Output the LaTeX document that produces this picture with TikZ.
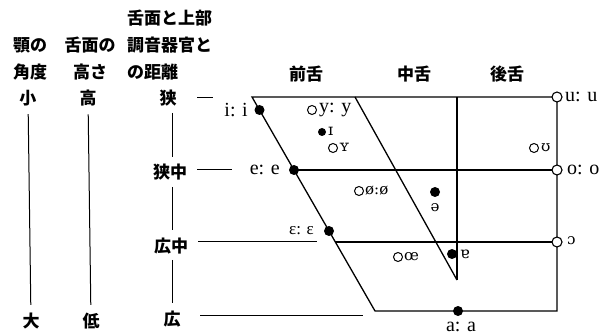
\documentclass[tikz,border=0pt]{standalone}
\usepackage{fontspec}
\setmainfont{Liberation Serif}
\newfontfamily\jpf{Noto Sans CJK JP}
\newfontfamily\ipaf{DejaVu Serif}
\begin{document}
\begin{tikzpicture}[x=1pt,y=-1pt,
  jp/.style={font=\jpf\bfseries\fontsize{17}{17}\selectfont, inner sep=0pt},
  vw/.style={font=\fontsize{20}{20}\selectfont, inner sep=0pt},
  vws/.style={font=\fontsize{17}{17}\selectfont, inner sep=0pt},
  ipa/.style={font=\ipaf\fontsize{15}{15}\selectfont, inner sep=0pt},
  ipas/.style={font=\ipaf\fontsize{16}{16}\selectfont, inner sep=0pt},
  frame/.style={line width=1.3pt},
  axisline/.style={line width=1pt},
  dotv/.style={circle, fill=black, inner sep=0pt, minimum size=10pt},
  dots/.style={circle, fill=black, inner sep=0pt, minimum size=8pt},
  ringv/.style={circle, draw, line width=1.1pt, fill=white, inner sep=0pt, minimum size=10pt},
  ringt/.style={circle, draw, line width=1pt, inner sep=0pt, minimum size=9pt}
]
\useasboundingbox (0,0) rectangle (612,336);

% ---- left scale headers ----
\node[jp] (h1a) at (30,45) {顎の};
\node[jp] (h1b) at (30,72) {角度};
\node[jp] (h2a) at (90,45) {舌面の};
\node[jp] (h2b) at (90,72) {高さ};
\node[jp, anchor=west] (h3a) at (127,18) {舌面と上部};
\node[jp, anchor=west] (h3b) at (127,45) {調音器官と};
\node[jp, anchor=west] (h3c) at (127,72) {の距離};

\node[jp] (small) at (28,98) {小};
\node[jp] (large) at (31,321) {大};
\node[jp] (high) at (88,98) {高};
\node[jp] (low) at (91,321) {低};
\node[jp] (nar) at (168,98) {狭};
\node[jp] (nmid) at (170,172) {狭中};
\node[jp] (wmid) at (171,246) {広中};
\node[jp] (wide) at (172,319) {広};

\draw[axisline, shorten <=8pt, shorten >=8pt] (small) -- (large);
\draw[axisline, shorten <=8pt, shorten >=8pt] (high) -- (low);
\coordinate (c1a) at (172,113); \coordinate (c1b) at (172,157);
\coordinate (c2a) at (172,187); \coordinate (c2b) at (172,230);
\coordinate (c3a) at (172,260); \coordinate (c3b) at (172,303);
\draw[axisline] (c1a) -- (c1b);
\draw[axisline] (c2a) -- (c2b);
\draw[axisline] (c3a) -- (c3b);

% ---- column headers ----
\node[jp] (front) at (306,74) {前舌};
\node[jp] (central) at (414,74) {中舌};
\node[jp] (back) at (507,74) {後舌};

% ---- chart frame ----
\coordinate (TL) at (252,97);
\coordinate (TR) at (557,97);
\coordinate (BR) at (557,311);
\coordinate (BL) at (375,311);
\coordinate (M1) at (355,97);
\coordinate (M2) at (457,97);
\coordinate (M3) at (457,280);
\coordinate (L1) at (294,170);
\coordinate (R1) at (557,170);
\coordinate (L2) at (335,242);
\coordinate (R2) at (557,242);
\draw[frame] (TL) -- (TR) -- (BR) -- (BL) -- cycle;
\draw[frame] (M1) -- (M3);
\draw[frame] (M2) -- (M3);
\draw[frame] (L1) -- (R1);
\draw[frame] (L2) -- (R2);

% ---- label guide lines ----
\coordinate (g0a) at (197,98); \coordinate (g0b) at (213,98);
\coordinate (g1a) at (197,170); \coordinate (g1b) at (232,170);
\coordinate (g2a) at (198,242); \coordinate (g2b) at (317,242);
\coordinate (g3a) at (200,315); \coordinate (g3b) at (363,315);
\draw[axisline] (g0a) -- (g0b);
\draw[axisline] (g1a) -- (g1b);
\draw[axisline] (g2a) -- (g2b);
\draw[axisline] (g3a) -- (g3b);

% ---- cardinal vowels ----
\node[dotv] (di) at (259.5,110) {};
\node[vw, anchor=east] (ti) at (248,110) {i: i};
\node[dotv] (de) at (L1) {};
\node[vw, anchor=east] (te) at (280,170) {e: e};
\node[dotv] (deps) at (329,231) {};
\node[vws, anchor=east] (teps) at (314,231) {ɛ: ɛ};
\node[dotv] (da) at (458,311) {};
\node[vw] (ta) at (461,327) {a: a};
\node[ringv] (ru) at (TR) {};
\node[vw, anchor=west] (tu) at (565,97) {u: u};
\node[ringv] (ro) at (R1) {};
\node[vw, anchor=west] (to) at (567,170) {o: o};
\node[ringv] (roo) at (R2) {};
\node[ipa, anchor=west] (too) at (567,241) {ɔ};

% ---- other vowels ----
\node[ringt] (ry) at (312,110) {};
\node[vw, anchor=west] (ty) at (319,110) {y: y};
\node[dots] (dI) at (322,132) {};
\node[ipas, anchor=west] (tI) at (328,131) {ɪ};
\node[ringt] (rY) at (333,148) {};
\node[ipas, anchor=west] (tY) at (339,147) {ʏ};
\node[ringt] (rU) at (534,148) {};
\node[ipa, anchor=west] (tU) at (541,148) {ʊ};
\node[ringt] (roe) at (359,191) {};
\node[ipa, anchor=west] (toe) at (365,191) {ø:ø};
\node[dotv] (dschwa) at (435,192) {};
\node[ipa] (tschwa) at (435,208) {ə};
\node[ringt] (rOE) at (398,257) {};
\node[ipa, anchor=west] (tOE) at (404,257) {œ};
\node[dotv] (dtur) at (452,254) {};
\node[ipas, anchor=west] (ttur) at (460,254) {ɐ};
\end{tikzpicture}
\end{document}
